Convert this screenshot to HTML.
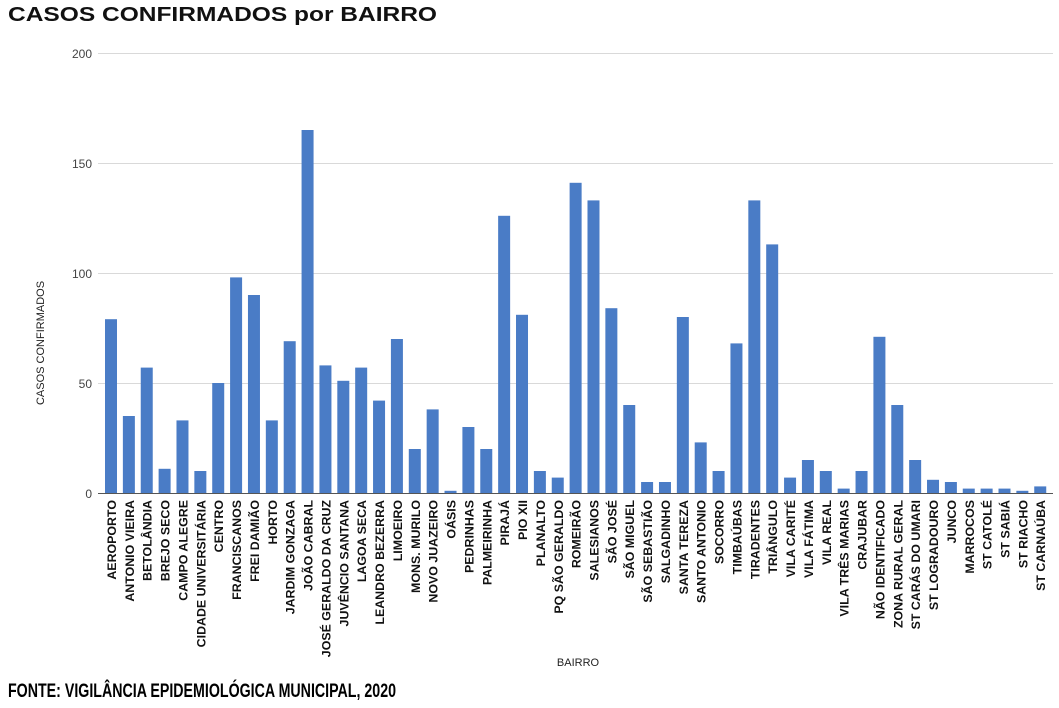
<!DOCTYPE html>
<html><head><meta charset="utf-8"><style>
html,body{margin:0;padding:0;background:#fff;}
svg{display:block;font-family:"Liberation Sans",sans-serif;}
</style></head><body>
<svg width="1059" height="708" viewBox="0 0 1059 708" xmlns="http://www.w3.org/2000/svg">
<text x="8" y="21" font-size="20" font-weight="bold" fill="#111" textLength="429" lengthAdjust="spacingAndGlyphs">CASOS CONFIRMADOS por BAIRRO</text>
<g stroke="#d9d9d9" stroke-width="1">
<line x1="98" y1="53.5" x2="1053" y2="53.5"/>
<line x1="98" y1="163.5" x2="1053" y2="163.5"/>
<line x1="98" y1="273.5" x2="1053" y2="273.5"/>
<line x1="98" y1="383.5" x2="1053" y2="383.5"/>
</g>
<line x1="98" y1="493.5" x2="1053" y2="493.5" stroke="#555" stroke-width="1"/>
<g font-size="12" fill="#444" text-anchor="end">
<text x="92" y="58">200</text><text x="92" y="168">150</text><text x="92" y="278">100</text><text x="92" y="388">50</text><text x="92" y="498">0</text>
</g>
<text transform="translate(44,343) rotate(-90)" font-size="11" fill="#222" text-anchor="middle">CASOS CONFIRMADOS</text>
<text x="578" y="666" font-size="11" fill="#222" text-anchor="middle">BAIRRO</text>
<g id="bars"></g>
<g id="labels" font-size="12.4" font-weight="bold" fill="#111" text-anchor="end"></g>
<text x="8" y="697" font-size="19" font-weight="bold" fill="#000" textLength="388" lengthAdjust="spacingAndGlyphs">FONTE: VIGILÂNCIA EPIDEMIOLÓGICA MUNICIPAL, 2020</text>
</svg>
<script>
var d=[["AEROPORTO",79],["ANTONIO VIEIRA",35],["BETOLÂNDIA",57],["BREJO SECO",11],["CAMPO ALEGRE",33],["CIDADE UNIVERSITÁRIA",10],["CENTRO",50],["FRANCISCANOS",98],["FREI DAMIÃO",90],["HORTO",33],["JARDIM GONZAGA",69],["JOÃO CABRAL",165],["JOSÉ GERALDO DA CRUZ",58],["JUVÊNCIO SANTANA",51],["LAGOA SECA",57],["LEANDRO BEZERRA",42],["LIMOEIRO",70],["MONS. MURILO",20],["NOVO JUAZEIRO",38],["OÁSIS",1],["PEDRINHAS",30],["PALMEIRINHA",20],["PIRAJÁ",126],["PIO XII",81],["PLANALTO",10],["PQ SÃO GERALDO",7],["ROMEIRÃO",141],["SALESIANOS",133],["SÃO JOSÉ",84],["SÃO MIGUEL",40],["SÃO SEBASTIÃO",5],["SALGADINHO",5],["SANTA TEREZA",80],["SANTO ANTONIO",23],["SOCORRO",10],["TIMBAÚBAS",68],["TIRADENTES",133],["TRIÂNGULO",113],["VILA CARITÉ",7],["VILA FÁTIMA",15],["VILA REAL",10],["VILA TRÊS MARIAS",2],["CRAJUBAR",10],["NÃO IDENTIFICADO",71],["ZONA RURAL GERAL",40],["ST CARÁS DO UMARI",15],["ST LOGRADOURO",6],["JUNCO",5],["MARROCOS",2],["ST CATOLÉ",2],["ST SABIÁ",2],["ST RIACHO",1],["ST CARNAÚBA",3]];
var ns="http://www.w3.org/2000/svg",b=document.getElementById("bars"),l=document.getElementById("labels");
d.forEach(function(e,i){var cx=111+i*17.87,h=e[1]*2.2;
var r=document.createElementNS(ns,"rect");r.setAttribute("x",cx-6);r.setAttribute("y",493-h);r.setAttribute("width",12);r.setAttribute("height",h);r.setAttribute("fill","#4a7cc6");b.appendChild(r);
var t=document.createElementNS(ns,"text");t.setAttribute("transform","translate("+(cx+5)+",500) rotate(-90)");t.textContent=e[0];l.appendChild(t);});
</script>
</body></html>
